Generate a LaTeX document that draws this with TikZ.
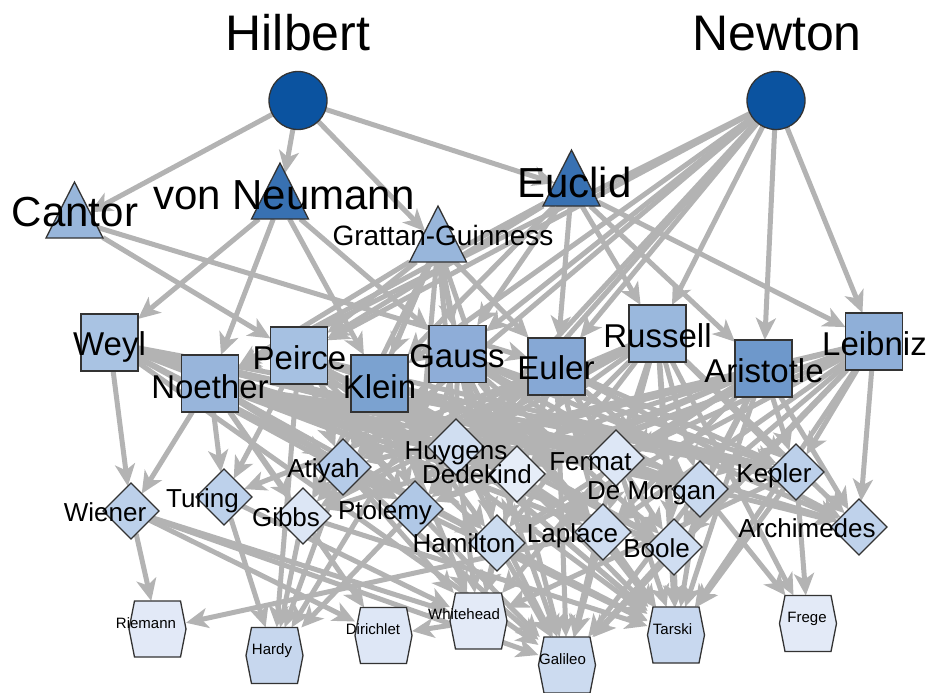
\documentclass[tikz,border=0pt]{standalone}
\usepackage{fontspec}
\setmainfont{Liberation Sans}
\usetikzlibrary{shapes.geometric,arrows.meta}
\pgfdeclarelayer{bg}
\pgfsetlayers{bg,main}
\definecolor{edgec}{HTML}{B3B3B3}
\definecolor{bord}{HTML}{333333}
\definecolor{cTop}{HTML}{0B53A0}
\definecolor{cTriD}{HTML}{3871B2}
\definecolor{cTriL}{HTML}{98B6DB}
\definecolor{cWeyl}{HTML}{A9C3E3}
\definecolor{cNoeth}{HTML}{98B5DB}
\definecolor{cPeirce}{HTML}{A6C1E2}
\definecolor{cKlein}{HTML}{7BA2D0}
\definecolor{cGauss}{HTML}{8EADD8}
\definecolor{cEuler}{HTML}{86A8D5}
\definecolor{cRussell}{HTML}{9AB8DD}
\definecolor{cArist}{HTML}{6E98CB}
\definecolor{cLeib}{HTML}{8FAFD8}
\definecolor{cWiener}{HTML}{BCD0EA}
\definecolor{cTuring}{HTML}{BDD1EB}
\definecolor{cGibbs}{HTML}{DCE6F5}
\definecolor{cAtiyah}{HTML}{B5CBE8}
\definecolor{cPtolemy}{HTML}{B0C8E6}
\definecolor{cHuygens}{HTML}{D0DEF1}
\definecolor{cDedekind}{HTML}{E6EDF8}
\definecolor{cHamilton}{HTML}{CCDCF0}
\definecolor{cFermat}{HTML}{DDE7F6}
\definecolor{cLaplace}{HTML}{CFDDF1}
\definecolor{cDeMorgan}{HTML}{C9D9EF}
\definecolor{cBoole}{HTML}{CFDDF1}
\definecolor{cKepler}{HTML}{BCD0EA}
\definecolor{cArchi}{HTML}{BFD2EB}
\definecolor{cRiemann}{HTML}{E2E9F7}
\definecolor{cHardy}{HTML}{C7D7EE}
\definecolor{cDirichlet}{HTML}{DEE7F6}
\definecolor{cWhitehead}{HTML}{E3EAF7}
\definecolor{cGalileo}{HTML}{CCDBF0}
\definecolor{cTarski}{HTML}{C8D8EF}
\definecolor{cFrege}{HTML}{E3EAF7}
\newcommand\hexshape[2]{\draw[shp, fill=#2] ([shift={(-23,-28)}]#1.center) -- ([shift={(23,-28)}]#1.center) -- ([shift={(28.5,0)}]#1.center) -- ([shift={(23,28)}]#1.center) -- ([shift={(-23,28)}]#1.center) -- ([shift={(-28.5,0)}]#1.center) -- cycle;}
\begin{document}
\begin{tikzpicture}[x=1pt,y=-1pt,
  every node/.style={inner sep=0pt, outer sep=0pt},
  shp/.style={draw=bord, line width=1.3pt},
  circ/.style={shp, circle, minimum size=58pt, fill=cTop},
  tri/.style={shp, isosceles triangle, shape border rotate=90, isosceles triangle stretches, minimum width=57pt, minimum height=56pt, anchor=apex},
  sq/.style={shp, rectangle, minimum size=57pt},
  dia/.style={shp, diamond, minimum width=56pt, minimum height=56pt},
  hexa/.style={rectangle, minimum width=57pt, minimum height=56pt},
  edge/.style={draw=edgec, line width=5pt, -{Stealth[length=22pt,width=20pt,inset=6pt]}},
  lbA/.style={font=\fontsize{50pt}{60pt}\selectfont, anchor=base},
  lbB/.style={font=\fontsize{42pt}{50pt}\selectfont, anchor=base},
  lbG/.style={font=\fontsize{28pt}{34pt}\selectfont, anchor=base},
  lbC/.style={font=\fontsize{33pt}{40pt}\selectfont, anchor=base},
  lbD/.style={font=\fontsize{26pt}{31pt}\selectfont, anchor=base},
  lbE/.style={font=\fontsize{15pt}{18pt}\selectfont, anchor=base}
]
\useasboundingbox (0,0) rectangle (932,693);
% top
\node[circ] (hil) at (298,100.5) {};
\node[circ] (new) at (776,100.5) {};
% triangles
\node[tri, fill=cTriL] (cantor) at (74.5,182) {};
\node[tri, fill=cTriD] (vneu) at (280,163) {};
\node[tri, fill=cTriL] (gratt) at (438,206) {};
\node[tri, fill=cTriD] (euclid) at (571.5,150) {};
% squares
\node[sq, fill=cWeyl] (weyl) at (109.5,342.5) {};
\node[sq, fill=cNoeth] (noeth) at (210,383.5) {};
\node[sq, fill=cPeirce] (peirce) at (299,355.5) {};
\node[sq, fill=cKlein] (klein) at (379.5,383.5) {};
\node[sq, fill=cGauss] (gauss) at (457.5,354) {};
\node[sq, fill=cEuler] (euler) at (556.5,366.5) {};
\node[sq, fill=cRussell] (russell) at (657.5,333.5) {};
\node[sq, fill=cArist] (arist) at (763.5,368.5) {};
\node[sq, fill=cLeib] (leib) at (874,341.5) {};
% diamonds
\node[dia, fill=cWiener] (wiener) at (131,511) {};
\node[dia, fill=cTuring] (turing) at (224,497) {};
\node[dia, fill=cGibbs] (gibbs) at (303,516) {};
\node[dia, fill=cAtiyah] (atiyah) at (343,467) {};
\node[dia, fill=cPtolemy] (ptolemy) at (415,509) {};
\node[dia, fill=cHuygens] (huygens) at (456,447) {};
\node[dia, fill=cDedekind] (dedekind) at (517,474) {};
\node[dia, fill=cHamilton] (hamilton) at (497,543) {};
\node[dia, fill=cFermat] (fermat) at (616,458) {};
\node[dia, fill=cLaplace] (laplace) at (603,532) {};
\node[dia, fill=cDeMorgan] (demorgan) at (700,489) {};
\node[dia, fill=cBoole] (boole) at (674,547) {};
\node[dia, fill=cKepler] (kepler) at (796,472) {};
\node[dia, fill=cArchi] (archi) at (859,527) {};
% hexagons
\node[hexa] (riemann) at (157.5,629) {};
\node[hexa] (hardy) at (274.5,655.5) {};
\node[hexa] (dirichlet) at (383.5,635.5) {};
\node[hexa] (whitehead) at (478.5,621) {};
\node[hexa] (galileo) at (567,665) {};
\node[hexa] (tarski) at (676,635) {};
\node[hexa] (frege) at (808,623.5) {};
\hexshape{riemann}{cRiemann}
\hexshape{hardy}{cHardy}
\hexshape{dirichlet}{cDirichlet}
\hexshape{whitehead}{cWhitehead}
\hexshape{galileo}{cGalileo}
\hexshape{tarski}{cTarski}
\hexshape{frege}{cFrege}
% edges
\begin{pgfonlayer}{bg}
\foreach \t in {cantor,vneu,gratt,euclid} \draw[edge] (hil) -- (\t);
\foreach \t in {gauss,klein,peirce,euler,russell,arist,leib,noeth,huygens,atiyah,ptolemy} \draw[edge] (new) -- (\t);
\foreach \t in {peirce,euler} \draw[edge] (cantor) -- (\t);
\foreach \t in {weyl,noeth,klein,gauss} \draw[edge] (vneu) -- (\t);
\foreach \t in {noeth,peirce,klein,gauss,euler,huygens,dedekind,atiyah,ptolemy,hamilton,gibbs} \draw[edge] (gratt) -- (\t);
\foreach \t in {euler,russell,arist,leib,klein,gauss,peirce,noeth} \draw[edge] (euclid) -- (\t);
\foreach \t in {wiener,dedekind,hamilton,laplace,ptolemy,fermat,galileo,huygens,demorgan,kepler,boole,archi} \draw[edge] (weyl) -- (\t);
\foreach \t in {wiener,turing,gibbs,atiyah,huygens,demorgan,dirichlet,ptolemy,hamilton,dedekind,fermat,laplace,kepler} \draw[edge] (noeth) -- (\t);
\foreach \t in {turing,atiyah,ptolemy,fermat,boole,tarski,hardy,huygens,dedekind,laplace,demorgan,kepler,hamilton} \draw[edge] (peirce) -- (\t);
\foreach \t in {gibbs,huygens,dedekind,laplace,kepler,hamilton,whitehead,ptolemy,fermat,demorgan,boole,archi,tarski} \draw[edge] (klein) -- (\t);
\foreach \t in {atiyah,ptolemy,fermat,laplace,demorgan,tarski,hardy,galileo,huygens,dedekind,hamilton,boole,kepler,archi,gibbs} \draw[edge] (gauss) -- (\t);
\foreach \t in {huygens,dedekind,hamilton,boole,archi,galileo,turing,fermat,laplace,demorgan,kepler,ptolemy,atiyah,gibbs} \draw[edge] (euler) -- (\t);
\foreach \t in {dedekind,fermat,laplace,boole,archi,gibbs,frege,ptolemy,huygens,hamilton,demorgan,kepler,atiyah,tarski} \draw[edge] (russell) -- (\t);
\foreach \t in {kepler,demorgan,archi,hamilton,laplace,huygens,tarski,fermat,boole,dedekind,ptolemy,atiyah,gibbs} \draw[edge] (arist) -- (\t);
\foreach \t in {archi,kepler,boole,fermat,dedekind,atiyah,galileo,laplace,demorgan,huygens,hamilton,ptolemy,tarski} \draw[edge] (leib) -- (\t);
\foreach \t in {riemann,dirichlet,whitehead,galileo} \draw[edge] (wiener) -- (\t);
\foreach \t in {hardy,whitehead} \draw[edge] (turing) -- (\t);
\foreach \t in {hardy,tarski} \draw[edge] (gibbs) -- (\t);
\foreach \t in {hardy,whitehead,galileo} \draw[edge] (atiyah) -- (\t);
\foreach \t in {hardy,galileo,tarski} \draw[edge] (ptolemy) -- (\t);
\foreach \t in {whitehead,tarski,galileo,dedekind} \draw[edge] (huygens) -- (\t);
\foreach \t in {whitehead,galileo,tarski} \draw[edge] (dedekind) -- (\t);
\foreach \t in {galileo,tarski,whitehead} \draw[edge] (hamilton) -- (\t);
\foreach \t in {riemann,tarski,galileo} \draw[edge] (laplace) -- (\t);
\foreach \t in {tarski,galileo,whitehead,demorgan} \draw[edge] (fermat) -- (\t);
\foreach \t in {frege,tarski,galileo} \draw[edge] (demorgan) -- (\t);
\foreach \t in {tarski,galileo} \draw[edge] (boole) -- (\t);
\foreach \t in {frege,whitehead,tarski} \draw[edge] (kepler) -- (\t);
\draw[edge] (whitehead) -- (dirichlet);
\end{pgfonlayer}
% labels
\node[lbA] (hilL) at (298,51) {Hilbert};
\node[lbA] (newL) at (777,51) {Newton};
\node[lbB] (cantorL) at (75,226) {Cantor};
\node[lbB] (vneuL) at (284,209) {von Neumann};
\node[lbG] (grattL) at (443,245) {Grattan-Guinness};
\node[lbB] (euclidL) at (574.5,197) {Euclid};
\node[lbC] (weylL) at (109.5,355) {Weyl};
\node[lbC] (noethL) at (210,398) {Noether};
\node[lbC] (peirceL) at (299.5,369) {Peirce};
\node[lbC] (kleinL) at (379.5,398) {Klein};
\node[lbC] (gaussL) at (457,367) {Gauss};
\node[lbC] (eulerL) at (556,379) {Euler};
\node[lbC] (russellL) at (657.5,347) {Russell};
\node[lbC] (aristL) at (764,382) {Aristotle};
\node[lbC] (leibL) at (874.5,355) {Leibniz};
\node[lbD] (wienerL) at (105,521) {Wiener};
\node[lbD] (turingL) at (202.5,507) {Turing};
\node[lbD] (gibbsL) at (286,526) {Gibbs};
\node[lbD] (atiyahL) at (323.5,477) {Atiyah};
\node[lbD] (ptolemyL) at (385,519) {Ptolemy};
\node[lbD] (huygensL) at (456,459) {Huygens};
\node[lbD] (dedekindL) at (477,483) {Dedekind};
\node[lbD] (hamiltonL) at (464,552) {Hamilton};
\node[lbD] (fermatL) at (590.5,470) {Fermat};
\node[lbD] (demorganL) at (651.5,499) {De Morgan};
\node[lbD] (keplerL) at (774,482) {Kepler};
\node[lbD] (archiL) at (807,537) {Archimedes};
\node[lbD] (laplaceL) at (572.5,542) {Laplace};
\node[lbD] (booleL) at (656.5,557) {Boole};
\node[lbE] (riemannL) at (146,628) {Riemann};
\node[lbE] (hardyL) at (272,654) {Hardy};
\node[lbE] (dirichletL) at (373,634) {Dirichlet};
\node[lbE] (whiteheadL) at (464,619) {Whitehead};
\node[lbE] (galileoL) at (562.5,664) {Galileo};
\node[lbE] (tarskiL) at (672.5,634) {Tarski};
\node[lbE] (fregeL) at (807,622) {Frege};
\end{tikzpicture}
\end{document}
